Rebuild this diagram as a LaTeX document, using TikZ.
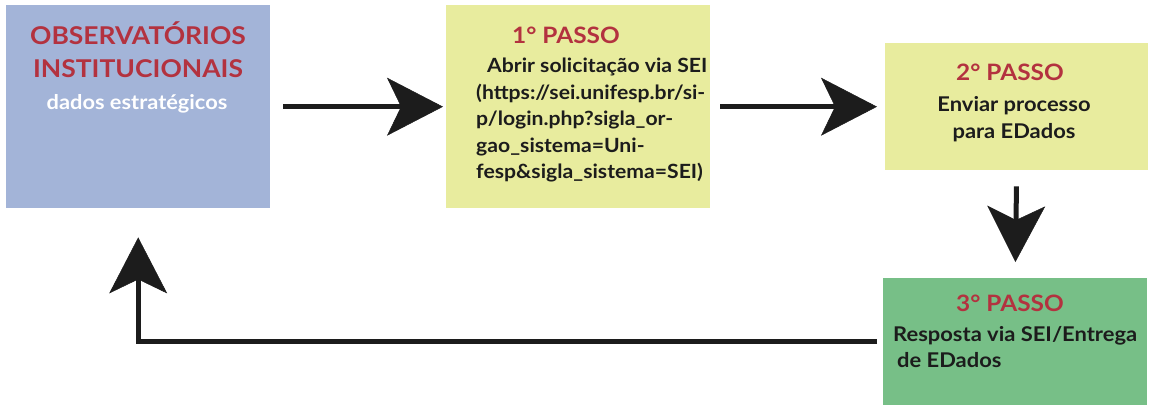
\documentclass[tikz,border=0pt]{standalone}
\usepackage{fontspec}
\setmainfont{Lato}[FakeStretch=1.08]
\usetikzlibrary{arrows.meta, positioning}
\definecolor{azulobs}{HTML}{A3B4D8}
\definecolor{amarelopasso}{HTML}{E8EC9E}
\definecolor{verdepasso}{HTML}{77BF87}
\definecolor{vermelhotit}{HTML}{B3323F}
\definecolor{textoescuro}{HTML}{1C1C1C}

\begin{document}
\begin{tikzpicture}[x=1pt, y=-1pt,
    caixa/.style={rectangle, inner sep=0pt, anchor=north west},
    titulo/.style={font=\bfseries\fontsize{24.5}{33}\selectfont, text=vermelhotit, align=center},
    passo/.style={font=\bfseries\fontsize{22.6}{27}\selectfont, text=vermelhotit},
    corpo/.style={font=\bfseries\fontsize{20.3}{26.5}\selectfont, text=textoescuro},
    seta/.style={line width=5pt, draw=textoescuro,
        -{Stealth[length=56pt, width=58pt, inset=14pt, line width=0.5pt]}}]
    \useasboundingbox (0,0) rectangle (1152,405);

    % caixas
    \node[caixa, fill=azulobs, minimum width=264pt, minimum height=203pt] (obs) at (6,5) {};
    \node[caixa, fill=amarelopasso, minimum width=264pt, minimum height=203pt] (passo1) at (446,5) {};
    \node[caixa, fill=amarelopasso, minimum width=263pt, minimum height=127pt] (passo2) at (885,43) {};
    \node[caixa, fill=verdepasso, minimum width=264pt, minimum height=127pt] (passo3) at (883,278) {};

    % textos
    \node[titulo] (obstit) at (138,50) {OBSERVATÓRIOS\\INSTITUCIONAIS};
    \node[font=\bfseries\fontsize{20.2}{24}\selectfont, text=white] (obssub) at (137,104) {dados estratégicos};

    \node[passo] (p1tit) at (566,35) {1° PASSO};
    \node[corpo, font=\bfseries\fontsize{19.6}{26.5}\selectfont, align=left, anchor=west, inner sep=0pt] (p1txt) at (476,120) {\hspace*{11pt}Abrir solicitação via SEI\\(https://sei.unifesp.br/si-\\p/login.php?sigla\_or-\\gao\_sistema=Uni-\\fesp\&sigla\_sistema=SEI)};

    \node[passo] (p2tit) at (1010,72) {2° PASSO};
    \node[corpo, align=center] (p2txt) at (1014,119) {Enviar processo\\para EDados};

    \node[passo] (p3tit) at (1010,303) {3° PASSO};
    \node[corpo, align=left, anchor=west, inner sep=0pt] (p3txt) at (893,347) {Resposta via SEI/Entrega\\\hspace*{4pt}de EDados};

    % setas
    \draw[seta, shorten <=13pt, shorten >=3pt] (obs) -- (passo1);
    \draw[seta, shorten <=10pt, shorten >=8pt] (passo1) -- (passo2);
    \draw[seta, shorten <=16pt, shorten >=16pt] (passo2.south) -- (passo3.north);
    \draw[seta, shorten <=6pt, shorten >=29pt] (passo3.west) -| (obs.south);
\end{tikzpicture}
\end{document}
